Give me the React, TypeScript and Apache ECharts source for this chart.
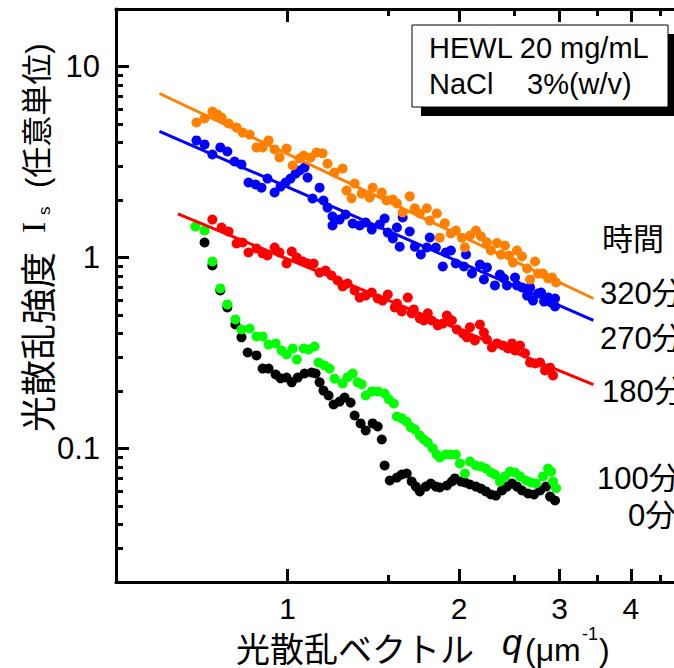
import React, { useEffect, useRef } from "react";
import * as echarts from "echarts";

// ---------- axis ticks / labels ----------
const xMajorTicks = [1, 2, 3, 4, 5];
const xMinorTicks = [1.5, 2.5, 3.5, 4.5];
const xTickLabels = [1, 2, 3, 4];
const yMajorTicks = [0.1, 1, 10];
const yMinorTicks = [
  0.02, 0.03, 0.04, 0.05, 0.06, 0.07, 0.08, 0.09,
  0.2, 0.3, 0.4, 0.5, 0.6, 0.7, 0.8, 0.9,
  2, 3, 4, 5, 6, 7, 8, 9, 20,
];
const yTickLabels = [0.1, 1, 10];

// ---------- data: [q (µm^-1), Is] ----------
const orange320: [number, number][] = [
  [0.692, 5.09], [0.715, 5.35], [0.738, 5.81], [0.753, 5.61], [0.766, 5.41], [0.788, 5.03],
  [0.814, 4.79], [0.834, 4.51], [0.858, 4.4], [0.882, 3.77], [0.904, 3.77], [0.926, 4.1],
  [0.949, 3.68], [0.968, 3.34], [0.996, 3.72], [1.021, 3.03], [1.05, 3.3], [1.067, 3.42],
  [1.097, 3.34], [1.124, 3.55], [1.152, 3.51], [1.175, 3.1], [1.209, 2.79], [1.249, 2.92],
  [1.269, 2.24], [1.295, 2.04], [1.311, 2.44], [1.349, 2.16], [1.393, 2.06], [1.41, 2.32],
  [1.463, 2.19], [1.492, 1.99], [1.53, 2.01], [1.555, 1.92], [1.592, 1.72], [1.638, 2.09],
  [1.672, 1.81], [1.706, 1.7], [1.755, 1.81], [1.776, 1.56], [1.827, 1.7], [1.849, 1.27],
  [1.887, 1.51], [1.934, 1.335], [1.973, 1.385], [2.022, 1.27], [2.047, 1.13], [2.089, 1.304],
  [2.14, 1.385], [2.184, 1.29], [2.237, 1.2], [2.274, 1.088], [2.33, 1.19], [2.368, 1.036],
  [2.406, 1.156], [2.446, 1.024], [2.486, 0.942], [2.526, 1.088], [2.578, 1.012], [2.631, 0.876],
  [2.663, 0.767], [2.717, 0.953], [2.751, 0.824], [2.806, 0.824], [2.864, 0.776], [2.911, 0.786],
  [2.958, 0.74],
];

const blue270: [number, number][] = [
  [0.692, 4.1], [0.715, 3.91], [0.738, 3.46], [0.762, 3.77], [0.784, 3.59], [0.807, 3.18],
  [0.83, 3.07], [0.854, 2.47], [0.879, 2.41], [0.9, 2.32], [0.922, 2.59], [0.949, 2.19],
  [0.972, 2.35], [0.992, 2.47], [1.012, 2.59], [1.033, 2.75], [1.05, 2.855], [1.071, 2.96],
  [1.084, 2.62], [1.106, 2.036], [1.138, 2.32], [1.156, 1.988], [1.175, 1.826], [1.199, 1.471],
  [1.199, 1.64], [1.234, 1.58], [1.264, 1.68], [1.301, 1.507], [1.338, 1.471], [1.371, 1.525],
  [1.405, 1.4], [1.451, 1.49], [1.48, 1.6], [1.499, 1.35], [1.53, 1.258], [1.555, 1.436],
  [1.573, 1.14], [1.592, 1.62], [1.638, 1.368], [1.672, 1.14], [1.713, 1.037], [1.755, 1.128],
  [1.776, 1.272], [1.82, 1.128], [1.872, 0.897], [1.895, 1.062], [1.934, 1.088], [1.973, 0.93],
  [2.039, 0.897], [2.056, 1.037], [2.106, 0.825], [2.175, 0.919], [2.21, 0.767], [2.237, 0.887],
  [2.311, 0.714], [2.358, 0.815], [2.396, 0.776], [2.426, 0.714], [2.506, 0.786], [2.526, 0.714],
  [2.578, 0.697], [2.631, 0.632], [2.663, 0.697], [2.695, 0.595], [2.751, 0.648], [2.784, 0.656],
  [2.818, 0.588], [2.864, 0.618], [2.899, 0.581], [2.946, 0.61], [2.946, 0.554],
];

const red180: [number, number][] = [
  [0.738, 1.58], [0.766, 1.436], [0.788, 1.368], [0.814, 1.184], [0.834, 1.198], [0.854, 1.062],
  [0.882, 1.115], [0.904, 1.049], [0.922, 1.024], [0.949, 1.128], [0.968, 1.062], [0.996, 0.93],
  [1.017, 1.075], [1.038, 1.0], [1.063, 0.953], [1.084, 0.93], [1.111, 0.93], [1.138, 0.834],
  [1.166, 0.855], [1.194, 0.805], [1.224, 0.758], [1.249, 0.705], [1.274, 0.731], [1.311, 0.672],
  [1.338, 0.617], [1.371, 0.632], [1.405, 0.656], [1.439, 0.61], [1.468, 0.595], [1.499, 0.64],
  [1.542, 0.548], [1.555, 0.574], [1.586, 0.522], [1.625, 0.617], [1.651, 0.51], [1.665, 0.535],
  [1.706, 0.48], [1.734, 0.468], [1.762, 0.51], [1.79, 0.468], [1.835, 0.441], [1.872, 0.451],
  [1.903, 0.497], [1.942, 0.468], [1.981, 0.42], [2.031, 0.4], [2.064, 0.382], [2.089, 0.431],
  [2.131, 0.368], [2.175, 0.446], [2.21, 0.405], [2.237, 0.372], [2.283, 0.338], [2.33, 0.355],
  [2.387, 0.346], [2.436, 0.334], [2.476, 0.355], [2.506, 0.326], [2.557, 0.346], [2.609, 0.315],
  [2.663, 0.282], [2.717, 0.279], [2.773, 0.282], [2.829, 0.256], [2.887, 0.265], [2.922, 0.241],
];

const green100: [number, number][] = [
  [0.689, 1.453], [0.715, 1.385], [0.738, 0.953], [0.762, 0.689], [0.784, 0.568], [0.81, 0.474],
  [0.83, 0.42], [0.858, 0.425], [0.882, 0.386], [0.904, 0.386], [0.926, 0.35], [0.953, 0.355],
  [0.976, 0.326], [0.996, 0.311], [1.021, 0.334], [1.038, 0.292], [1.067, 0.334], [1.089, 0.33],
  [1.115, 0.342], [1.133, 0.282], [1.161, 0.272], [1.185, 0.262], [1.209, 0.232], [1.249, 0.219],
  [1.274, 0.236], [1.301, 0.247], [1.327, 0.222], [1.349, 0.217], [1.371, 0.1894], [1.405, 0.199],
  [1.439, 0.199], [1.48, 0.194], [1.505, 0.181], [1.536, 0.172], [1.555, 0.147], [1.586, 0.144],
  [1.618, 0.138], [1.645, 0.129], [1.672, 0.126], [1.706, 0.117], [1.734, 0.1114], [1.762, 0.1074],
  [1.798, 0.1], [1.827, 0.093], [1.849, 0.0897], [1.895, 0.093], [1.934, 0.093], [1.973, 0.093],
  [2.006, 0.0835], [2.047, 0.074], [2.089, 0.0854], [2.14, 0.0815], [2.184, 0.0805], [2.228, 0.0786],
  [2.274, 0.0749], [2.311, 0.0731], [2.358, 0.0672], [2.406, 0.0714], [2.456, 0.0758], [2.506, 0.0749],
  [2.557, 0.0714], [2.62, 0.068], [2.674, 0.0664], [2.728, 0.0656], [2.806, 0.0714], [2.864, 0.0786],
  [2.899, 0.0758], [2.922, 0.0672], [2.958, 0.0619],
];

const black0: [number, number][] = [
  [0.715, 1.198], [0.738, 0.908], [0.762, 0.672], [0.784, 0.548], [0.81, 0.446], [0.83, 0.382],
  [0.851, 0.318], [0.882, 0.307], [0.904, 0.262], [0.926, 0.262], [0.953, 0.244], [0.972, 0.233],
  [0.996, 0.235], [1.017, 0.222], [1.042, 0.235], [1.071, 0.247], [1.102, 0.25], [1.12, 0.247],
  [1.138, 0.222], [1.156, 0.201], [1.18, 0.1894], [1.204, 0.17], [1.234, 0.176], [1.259, 0.1849],
  [1.29, 0.174], [1.311, 0.1489], [1.343, 0.1353], [1.371, 0.1242], [1.41, 0.1353], [1.439, 0.1303],
  [1.463, 0.1114], [1.48, 0.0815], [1.511, 0.068], [1.555, 0.0704], [1.586, 0.0731], [1.618, 0.074],
  [1.651, 0.0672], [1.679, 0.0632], [1.706, 0.0596], [1.748, 0.0632], [1.783, 0.0656], [1.82, 0.0632],
  [1.849, 0.0625], [1.903, 0.064], [1.942, 0.0672], [1.965, 0.0697], [2.014, 0.0672], [2.047, 0.0664],
  [2.089, 0.0648], [2.14, 0.0632], [2.184, 0.0617], [2.228, 0.0596], [2.274, 0.0574], [2.32, 0.0567],
  [2.377, 0.0603], [2.426, 0.0632], [2.476, 0.0656], [2.526, 0.0632], [2.578, 0.0603], [2.642, 0.0581],
  [2.706, 0.0574], [2.773, 0.0603], [2.841, 0.0632], [2.887, 0.056], [2.946, 0.0534],
];

// power-law fit lines (end points)
const orangeFit: [number, number][] = [[0.596, 7.22], [3.44, 0.61]];
const blueFit: [number, number][] = [[0.596, 4.58], [3.44, 0.468]];
const redFit: [number, number][] = [[0.642, 1.69], [3.44, 0.216]];

const timeHeader = "時間";
const timeLabels = ["320分", "270分", "180分", "100分", "0分"];
const infoLine1 = "HEWL 20 mg/mL";
const infoLine2a = "NaCl";
const infoLine2b = "3%(w/v)";

const LATIN = "'Liberation Sans', Arial, sans-serif";
const CJK = "'Noto Sans CJK JP', sans-serif";
const MIXED = "'Liberation Sans', 'Noto Sans CJK JP', sans-serif";
const SERIF = "'Liberation Serif', 'DejaVu Serif', serif";

function txt(
  text: string, x: number, y: number, fontSize: number, fontFamily: string,
  extra: { rotation?: number; italic?: boolean; align?: string } = {}
) {
  const align = extra.align || "left";
  return {
    type: "text",
    x, y,
    rotation: extra.rotation || 0,
    silent: true,
    z: 100,
    style: {
      text,
      fill: "#000",
      fontSize,
      fontFamily,
      fontStyle: extra.italic ? "italic" : "normal",
      align,
      textAlign: align,
      verticalAlign: "middle",
      textVerticalAlign: "middle",
    },
  };
}

function logX(position: string, ticks: number[], len: number, showLine: boolean, labels?: number[]) {
  return {
    type: "log",
    logBase: 10,
    min: 0.5,
    max: 5,
    position,
    axisLine: { show: showLine, onZero: false, lineStyle: { color: "#000", width: 3 } },
    axisTick: { show: true, inside: true, length: len, customValues: ticks, lineStyle: { color: "#000", width: 3 } },
    axisLabel: labels
      ? { show: true, customValues: labels, margin: 11, color: "#000", fontSize: 30, fontFamily: LATIN, formatter: (v: number) => String(v) }
      : { show: false },
    splitLine: { show: false },
    minorTick: { show: false },
    minorSplitLine: { show: false },
  };
}

function logY(position: string, ticks: number[], len: number, showLine: boolean, labels?: number[]) {
  return {
    type: "log",
    logBase: 10,
    min: 0.02,
    max: 20,
    position,
    axisLine: { show: showLine, onZero: false, lineStyle: { color: "#000", width: 3 } },
    axisTick: { show: true, inside: true, length: len, customValues: ticks, lineStyle: { color: "#000", width: 3 } },
    axisLabel: labels
      ? { show: true, customValues: labels, margin: 16, color: "#000", fontSize: 31, fontFamily: LATIN, formatter: (v: number) => String(v) }
      : { show: false },
    splitLine: { show: false },
    minorTick: { show: false },
    minorSplitLine: { show: false },
  };
}

function scatter(name: string, data: [number, number][], color: string) {
  return {
    name,
    type: "scatter",
    data,
    symbol: "circle",
    symbolSize: 10,
    itemStyle: { color, opacity: 1 },
    emphasis: { disabled: true },
    silent: true,
    z: 2,
  };
}

function fit(name: string, data: [number, number][], color: string) {
  return {
    name,
    type: "line",
    data,
    symbol: "none",
    showSymbol: false,
    lineStyle: { color, width: 3 },
    emphasis: { disabled: true },
    silent: true,
    z: 5,
  };
}

const timeLabelPos: [number, number][] = [[600, 293], [600, 338], [602, 391], [597, 478], [628, 515]];

const option: any = {
  animation: false,
  backgroundColor: "#fff",
  textStyle: { fontFamily: LATIN },
  grid: { left: 116, top: 9, right: -12, bottom: 86, containLabel: false, outerBoundsMode: "none" },
  xAxis: [
    logX("bottom", xMajorTicks, 13, true, xTickLabels),
    logX("bottom", xMinorTicks, 7, false),
    logX("top", xMajorTicks, 13, true),
    logX("top", xMinorTicks, 7, false),
  ],
  yAxis: [
    logY("left", yMajorTicks, 13, true, yTickLabels),
    logY("left", yMinorTicks, 7, false),
  ],
  series: [
    scatter("0分", black0, "#000000"),
    scatter("100分", green100, "#00ff00"),
    scatter("180分", red180, "#ff0000"),
    scatter("270分", blue270, "#0000ff"),
    scatter("320分", orange320, "#ff8000"),
    fit("180分 fit", redFit, "#ff0000"),
    fit("270分 fit", blueFit, "#0000ff"),
    fit("320分 fit", orangeFit, "#ff8000"),
  ],
  graphic: [
    // info box with shadow
    { type: "rect", shape: { x: 421, y: 34, width: 256, height: 82 }, style: { fill: "#000" }, z: 90, silent: true },
    { type: "rect", shape: { x: 412, y: 25, width: 256, height: 82 }, style: { fill: "#fff", stroke: "#000", lineWidth: 1 }, z: 91, silent: true },
    txt(infoLine1, 429, 48, 29, LATIN),
    txt(infoLine2a, 429, 84, 29, LATIN),
    txt(infoLine2b, 527, 84, 29, LATIN),
    // time labels
    txt(timeHeader, 602, 236, 31, CJK),
    ...timeLabels.map((t, i) => txt(t, timeLabelPos[i][0], timeLabelPos[i][1], 31, MIXED)),
    // x axis name
    txt("光散乱ベクトル", 236, 647, 34, CJK),
    txt("q", 502, 642, 36, LATIN, { italic: true }),
    txt("(μm", 525, 650, 32, LATIN),
    txt("-1", 582, 634, 18, LATIN),
    txt(")", 599, 650, 32, LATIN),
    // y axis name (rotated)
    txt("光散乱強度", 36, 432, 36, CJK, { rotation: Math.PI / 2 }),
    txt("I", 33.5, 233, 34, SERIF, { rotation: Math.PI / 2 }),
    txt("s", 44.5, 215, 17, LATIN, { rotation: Math.PI / 2 }),
    txt("(任意単位)", 37.5, 188, 31, MIXED, { rotation: Math.PI / 2 }),
  ],
};

export default function App() {
  const ref = useRef<HTMLDivElement>(null);
  useEffect(() => {
    if (!ref.current) return;
    const chart = echarts.init(ref.current, undefined, { renderer: "svg" });
    chart.setOption(option);
    return () => chart.dispose();
  }, []);
  return (
    <div
      ref={ref}
      style={{ position: "absolute", left: 0, top: 0, width: 674, height: 668, background: "#fff", overflow: "hidden" }}
    />
  );
}
